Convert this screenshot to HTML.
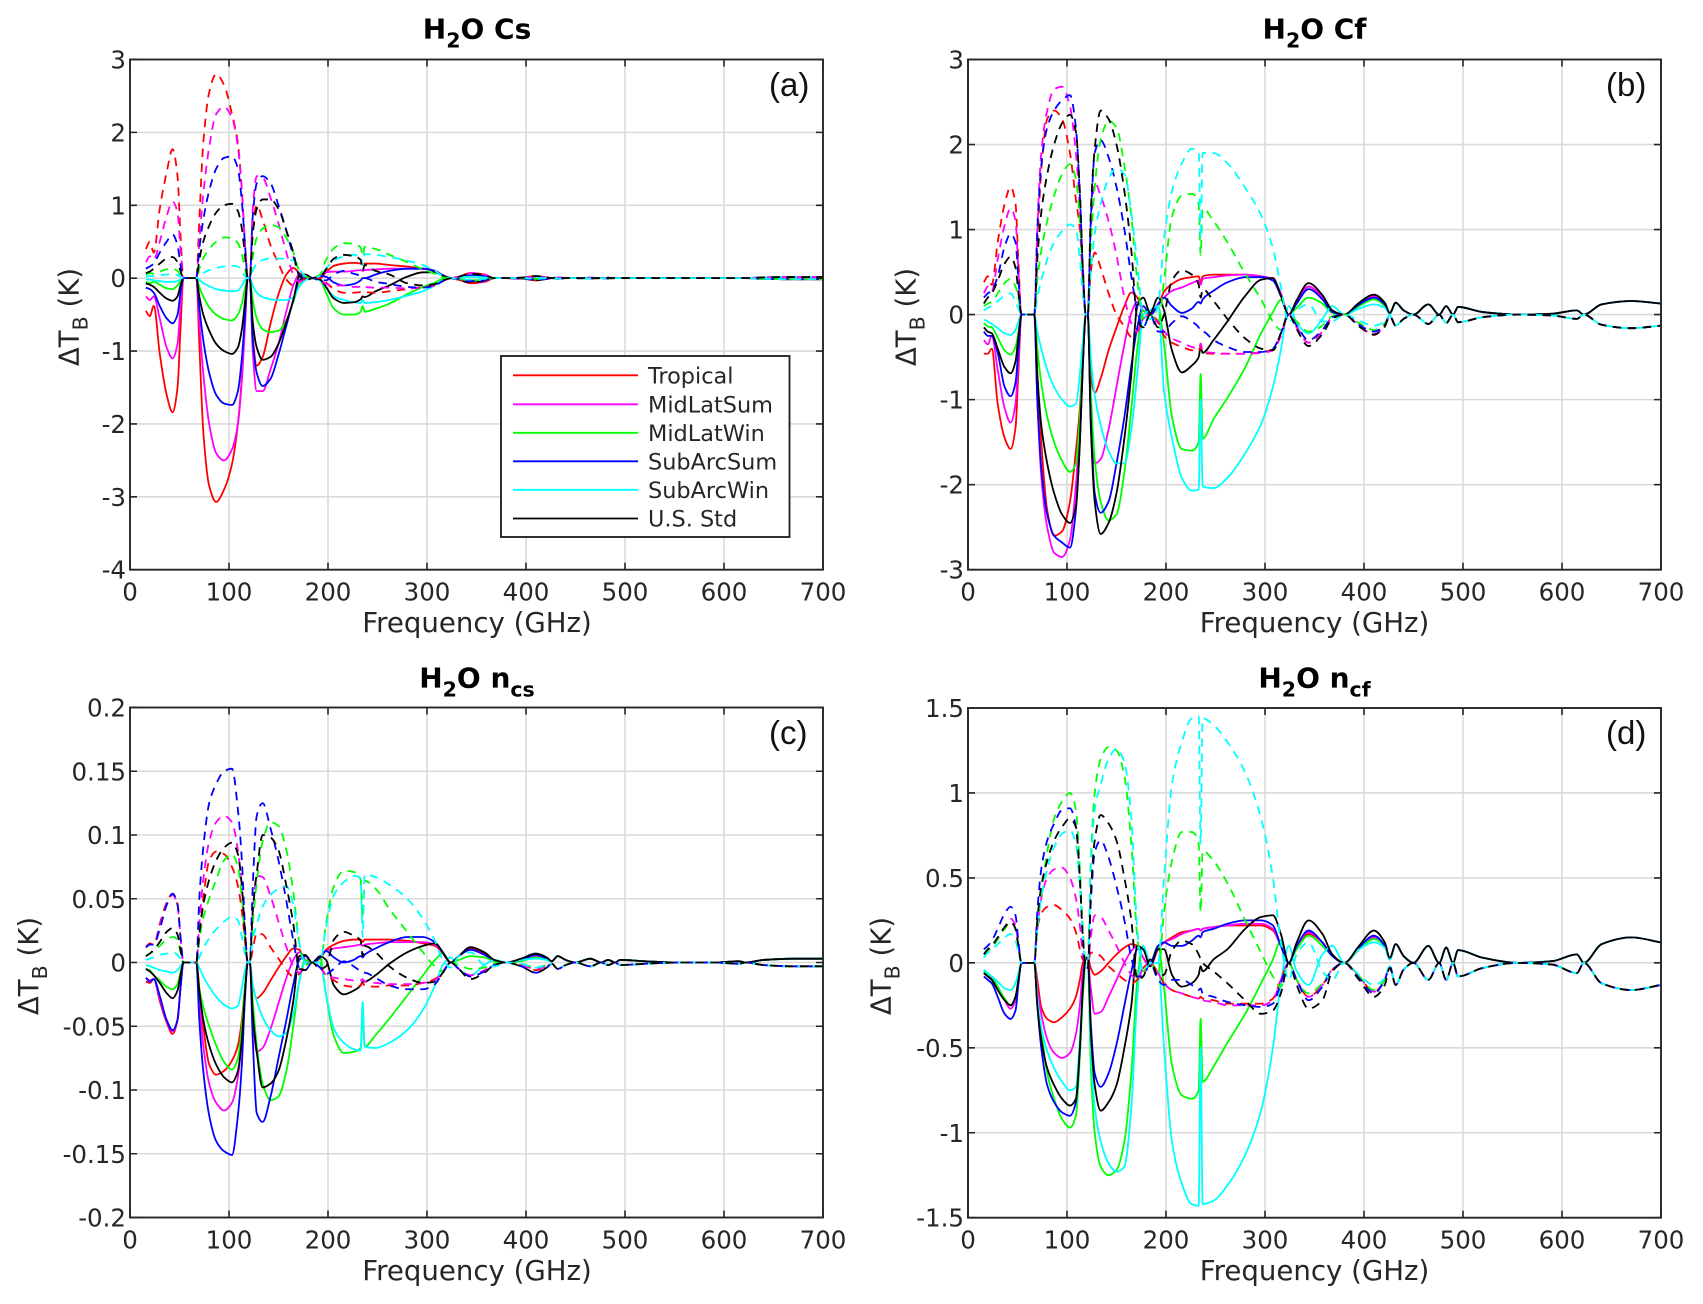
<!DOCTYPE html>
<html lang="en">
<head>
<meta charset="utf-8">
<title>H2O brightness temperature sensitivity</title>
<style>
html,body{margin:0;padding:0;background:#fff;}
#figure{display:block;}
text{font-family:"DejaVu Sans","Liberation Sans",sans-serif;fill:#262626;}
.tag{font-family:"Liberation Sans",sans-serif;font-size:33px;fill:#111;}
.tick{font-size:24.5px;}
.label{font-size:27.6px;}
.title{font-size:28px;font-weight:bold;fill:#000;}
.leg{font-size:22.4px;}
</style>
</head>
<body>
<svg id="figure" xmlns="http://www.w3.org/2000/svg" width="1703" height="1304" viewBox="0 0 1703 1304">
<rect x="0" y="0" width="1703" height="1304" fill="#fff"/>
<g id="plots"></g>

<text class="title" x="477" y="38.5" text-anchor="middle">H<tspan dy="9" font-size="20.5">2</tspan><tspan dy="-9">O Cs</tspan></text>
<text class="title" x="1314.5" y="38.5" text-anchor="middle">H<tspan dy="9" font-size="20.5">2</tspan><tspan dy="-9">O Cf</tspan></text>
<text class="title" x="477" y="687.5" text-anchor="middle">H<tspan dy="9" font-size="20.5">2</tspan><tspan dy="-9">O n</tspan><tspan dy="9" font-size="20.5">cs</tspan></text>
<text class="title" x="1314.5" y="687.5" text-anchor="middle">H<tspan dy="9" font-size="20.5">2</tspan><tspan dy="-9">O n</tspan><tspan dy="9" font-size="20.5">cf</tspan></text>

<text class="label" x="477" y="632" text-anchor="middle">Frequency (GHz)</text>
<text class="label" x="1314.5" y="632" text-anchor="middle">Frequency (GHz)</text>
<text class="label" x="477" y="1280" text-anchor="middle">Frequency (GHz)</text>
<text class="label" x="1314.5" y="1280" text-anchor="middle">Frequency (GHz)</text>

<text class="label" transform="translate(78.5 317) rotate(-90)" text-anchor="middle">ΔT<tspan dy="9" font-size="20.5">B</tspan><tspan dy="-9"> (K)</tspan></text>
<text class="label" transform="translate(915.5 317) rotate(-90)" text-anchor="middle">ΔT<tspan dy="9" font-size="20.5">B</tspan><tspan dy="-9"> (K)</tspan></text>
<text class="label" transform="translate(38 966) rotate(-90)" text-anchor="middle">ΔT<tspan dy="9" font-size="20.5">B</tspan><tspan dy="-9"> (K)</tspan></text>
<text class="label" transform="translate(890.5 966) rotate(-90)" text-anchor="middle">ΔT<tspan dy="9" font-size="20.5">B</tspan><tspan dy="-9"> (K)</tspan></text>

<text class="tag" x="769" y="96">(a)</text>
<text class="tag" x="1606" y="96">(b)</text>
<text class="tag" x="769" y="744">(c)</text>
<text class="tag" x="1606" y="744">(d)</text>

<g>
<rect x="501" y="356" width="288.5" height="181" fill="#fff" stroke="#262626" stroke-width="1.9"/>
<line x1="513" x2="638" y1="375.3" y2="375.3" stroke="#f00" stroke-width="1.8"/>
<text class="leg" x="648" y="383.3">Tropical</text>
<line x1="513" x2="638" y1="404.3" y2="404.3" stroke="#f0f" stroke-width="1.8"/>
<text class="leg" x="648" y="412.3">MidLatSum</text>
<line x1="513" x2="638" y1="432.8" y2="432.8" stroke="#0f0" stroke-width="1.8"/>
<text class="leg" x="648" y="440.8">MidLatWin</text>
<line x1="513" x2="638" y1="461.3" y2="461.3" stroke="#00f" stroke-width="1.8"/>
<text class="leg" x="648" y="469.3">SubArcSum</text>
<line x1="513" x2="638" y1="489.8" y2="489.8" stroke="#0ff" stroke-width="1.8"/>
<text class="leg" x="648" y="497.8">SubArcWin</text>
<line x1="513" x2="638" y1="518.5" y2="518.5" stroke="#000" stroke-width="1.8"/>
<text class="leg" x="648" y="526.5">U.S. Std</text>
</g>
</svg>

<script>
const freq=[16,20,24,30,37,43,48,51,54,
67,70,74,80,87,95,103,109,113,116,119,
121,124,128,134,142,150,158,165,171,177,184,
192,198,206,216,226,233,235,237,248,262,280,296,308,316,324,
332,344,358,368,
380,395,410,421,426,
432,440,450,465,476,483,490,495,520,555,590,615,622,640,670,700];

const xTicks=[0,100,200,300,400,500,600,700];
const aYTicks=[3,2,1,0,-1,-2,-3,-4];
const bYTicks=[3,2,1,0,-1,-2,-3];
const cYTicks=[0.2,0.15,0.1,0.05,0,-0.05,-0.1,-0.15,-0.2];
const dYTicks=[1.5,1,0.5,0,-0.5,-1,-1.5];

const atmospheres=["tropical","midlatsum","midlatwin","subarcsum","subarcwin","us-std"];
const colors=["#f00","#f0f","#0f0","#00f","#0ff","#000"];

/* Panel (a) H2O Cs */
const aTailSolid=[.01,0,0,.005,0,.005,0,0,0,0,0,0,0,.01,.015,.015];
const aTailDash=[-.01,0,0,-.005,0,-.005,0,0,0,0,0,0,0,-.01,-.015,-.015];
const aTropicalSolid=[-.45,-.52,-.38,-1.03,-1.6,-1.84,-1.5,-.7,0, 0,-.9,-2.1,-2.85,-3.07,-2.9,-2.55,-2,-1.35,-.6,0, 0,-.8,-1.2,-1.08,-.62,-.22,.05,.14,.07,.02,0, 0,.08,.17,.2,.21,.2,.19,.2,.2,.18,.16,.13,.1,.04,0, .02,.07,.05,0, 0,.005,.03,.01,0, ...aTailSolid];
const aTropicalDash=[.4,.5,.35,.95,1.45,1.77,1.4,.6,0, 0,.8,1.85,2.55,2.8,2.65,2.25,1.85,1.2,.5,0, 0,.7,1,.8,.45,.2,-.02,-.1,-.05,-.01,0, 0,-.06,-.15,-.2,-.2,-.19,-.18,-.19,-.2,-.18,-.15,-.12,-.1,-.04,0, -.02,-.07,-.05,0, 0,-.005,-.03,-.01,0, ...aTailDash];
const aMidLatSumSolid=[-.25,-.3,-.25,-.55,-.95,-1.1,-.9,-.4,0, 0,-.6,-1.3,-2,-2.4,-2.5,-2.35,-2,-1.4,-.7,0, 0,-1,-1.55,-1.55,-1.25,-.9,-.45,-.1,.05,.01,0, .02,.08,.09,.09,.1,.11,.1,.11,.12,.13,.13,.13,.1,.04,0, -.02,-.07,-.05,0, 0,-.005,-.02,-.01,0, ...aTailDash];
const aMidLatSumDash=[.22,.3,.25,.5,.85,1.05,.9,.4,0, 0,.5,1.15,1.8,2.25,2.35,2.2,1.8,1.2,.5,0, 0,.95,1.4,1.38,1.1,.75,.35,.05,-.05,-.01,0, -.02,-.08,-.1,-.1,-.12,-.12,-.1,-.12,-.13,-.13,-.14,-.13,-.1,-.04,0, .02,.07,.05,0, 0,.005,.02,.01,0, ...aTailSolid];
const aMidLatWinSolid=[-.05,-.07,-.05,-.09,-.14,-.15,-.1,-.04,0, 0,-.12,-.25,-.4,-.5,-.56,-.58,-.5,-.35,-.15,0, 0,-.3,-.55,-.7,-.74,-.72,-.58,-.32,-.1,-.02,0, -.03,-.2,-.42,-.5,-.5,-.46,-.38,-.46,-.42,-.35,-.22,-.12,-.06,-.01,0, .01,.03,.02,0, 0,0,.01,0,0, ...aTailSolid];
const aMidLatWinDash=[.05,.07,.06,.09,.12,.13,.1,.04,0, 0,.13,.27,.4,.5,.56,.55,.48,.33,.14,0, 0,.3,.55,.68,.73,.7,.55,.35,.1,.02,0, .05,.25,.41,.48,.47,.42,.3,.43,.4,.32,.22,.12,.06,.01,0, -.01,-.03,-.02,0, 0,0,-.01,0,0, ...aTailDash];
const aSubArcSumSolid=[-.13,-.15,-.2,-.38,-.55,-.62,-.5,-.2,0, 0,-.4,-.85,-1.3,-1.6,-1.72,-1.74,-1.55,-1.1,-.55,0, 0,-.85,-1.3,-1.48,-1.38,-1.05,-.65,-.3,-.03,0,0, .03,.02,-.06,-.1,-.08,-.03,0,0,.05,.1,.13,.13,.1,.04,0, .01,.04,.03,0, 0,.005,.02,.01,0, ...aTailSolid];
const aSubArcSumDash=[.13,.16,.2,.35,.5,.6,.45,.18,0, 0,.4,.8,1.2,1.5,1.65,1.67,1.5,1.05,.5,0, 0,.85,1.3,1.4,1.3,1,.65,.3,.05,0,0, -.03,-.03,.05,.1,.06,.03,0,0,-.05,-.08,-.12,-.13,-.1,-.04,0, -.01,-.04,-.03,0, 0,-.005,-.02,-.01,0, ...aTailDash];
const aSubArcWinSolid=[-.02,-.02,-.03,-.04,-.05,-.05,-.04,-.02,0, 0,-.02,-.07,-.11,-.15,-.17,-.18,-.17,-.1,-.03,0, 0,-.1,-.2,-.26,-.29,-.3,-.3,-.26,-.12,-.03,0, -.03,-.13,-.25,-.3,-.33,-.34,-.3,-.34,-.33,-.3,-.24,-.18,-.1,-.03,0, .01,.02,.01,0, 0,0,.01,0,0, ...aTailSolid];
const aSubArcWinDash=[.02,.03,.03,.04,.05,.06,.04,.02,0, 0,.02,.07,.11,.14,.16,.17,.16,.1,.03,0, 0,.1,.2,.25,.27,.27,.26,.24,.12,.03,0, .03,.13,.24,.3,.32,.3,.18,.33,.32,.29,.24,.18,.1,.03,0, -.01,-.02,-.01,0, 0,0,-.01,0,0, ...aTailDash];
const aUsStdSolid=[-.07,-.09,-.12,-.2,-.28,-.31,-.25,-.1,0, 0,-.25,-.5,-.72,-.9,-1,-1.04,-.95,-.7,-.35,0, 0,-.6,-.95,-1.12,-1.08,-.9,-.6,-.3,.03,.05,0, -.02,-.12,-.28,-.34,-.33,-.29,-.25,-.26,-.18,-.1,.02,.08,.08,.03,0, -.02,-.06,-.04,0, 0,-.005,-.03,-.01,0, ...aTailDash];
const aUsStdDash=[.07,.09,.13,.2,.27,.29,.22,.1,0, 0,.25,.5,.72,.9,1,1.02,.92,.68,.33,0, 0,.6,.95,1.08,1.08,.95,.65,.35,.03,-.03,0, .02,.12,.27,.32,.3,.25,.1,.18,.1,.05,-.07,-.1,-.08,-.03,0, .02,.06,.04,0, 0,.005,.03,.01,0, ...aTailSolid];

/* Panel (b) H2O Cf */
const bTailSolid=[.14,.05,0,.12,0,.1,0,.09,.03,0,.01,.05,0,.12,.16,.13];
const bTailDash=[-.13,-.05,0,-.11,0,-.1,0,-.09,-.03,0,-.01,-.05,0,-.12,-.16,-.13];
const bTropicalSolid=[-.46,-.46,-.4,-1.05,-1.45,-1.58,-1.33,-.65,0, 0,-.7,-1.5,-2.3,-2.6,-2.55,-2.2,-1.6,-1.1,-.5,0, 0,-.7,-.92,-.75,-.42,-.15,.1,.26,.2,.05,0, .1,.27,.36,.42,.44,.45,.38,.45,.47,.47,.47,.45,.41,.25,0, .15,.33,.2,.03, 0,.13,.22,.12,.01, ...bTailSolid];
const bTropicalDash=[.38,.45,.35,.85,1.3,1.5,1.3,.6,0, 0,.8,1.7,2.3,2.4,2.3,1.9,1.35,1,.4,0, 0,.5,.73,.55,.25,0,-.14,-.26,-.2,-.05,0, -.08,-.25,-.33,-.38,-.42,-.43,-.37,-.45,-.46,-.46,-.46,-.44,-.41,-.25,0, -.15,-.33,-.2,-.03, 0,-.13,-.24,-.12,-.01, ...bTailDash];
const bMidLatSumSolid=[-.3,-.35,-.25,-.65,-1.1,-1.27,-1.05,-.5,0, 0,-1,-1.9,-2.5,-2.8,-2.85,-2.65,-2,-1.3,-.55,0, 0,-1.1,-1.75,-1.7,-1.35,-.85,-.35,.02,.15,.05,0, .13,.2,.28,.32,.37,.4,.35,.42,.44,.46,.47,.45,.42,.25,0, .14,.33,.2,.03, 0,.13,.22,.13,.01, ...bTailSolid];
const bMidLatSumDash=[.25,.33,.27,.65,1.05,1.25,1.1,.5,0, 0,1,1.9,2.4,2.65,2.68,2.45,1.9,1.25,.5,0, 0,1,1.55,1.4,1.1,.7,.2,-.1,-.2,-.05,0, -.1,-.2,-.28,-.33,-.38,-.4,-.34,-.43,-.45,-.46,-.46,-.45,-.42,-.25,0, -.14,-.33,-.2,-.03, 0,-.13,-.23,-.13,-.01, ...bTailDash];
const bMidLatWinSolid=[-.1,-.14,-.15,-.27,-.42,-.47,-.38,-.2,0, 0,-.4,-.8,-1.2,-1.5,-1.72,-1.85,-1.75,-1.2,-.5,0, 0,-.9,-1.7,-2.2,-2.42,-2.35,-1.85,-1.1,-.4,.05,0, .1,-.35,-1.2,-1.58,-1.6,-1.5,-.7,-1.46,-1.23,-.98,-.62,-.22,.03,.17,0, .08,.2,.13,.02, 0,.1,.18,.1,.01, ...bTailSolid];
const bMidLatWinDash=[.1,.13,.15,.25,.37,.42,.33,.18,0, 0,.4,.75,1.1,1.4,1.65,1.77,1.6,1.1,.45,0, 0,.8,1.5,2.05,2.28,2.2,1.75,1.15,.4,-.05,0, -.1,.4,1.15,1.4,1.42,1.3,.7,1.25,1.1,.85,.48,.18,-.08,-.18,0, -.08,-.2,-.13,-.02, 0,-.1,-.18,-.1,-.01, ...bTailDash];
const bSubArcSumSolid=[-.2,-.25,-.25,-.45,-.85,-.96,-.8,-.4,0, 0,-1,-1.8,-2.35,-2.6,-2.68,-2.74,-2.3,-1.5,-.6,0, 0,-1.2,-2.1,-2.33,-2.2,-1.75,-1.2,-.6,-.15,.1,0, .12,.2,.1,.02,.07,.15,.13,.18,.28,.38,.44,.44,.4,.22,0, .13,.3,.18,.03, 0,.12,.2,.12,.01, ...bTailSolid];
const bSubArcSumDash=[.2,.25,.28,.45,.8,.95,.85,.4,0, 0,1,1.75,2.2,2.4,2.52,2.58,2.2,1.4,.55,0, 0,1.1,1.9,2.05,1.85,1.5,1,.45,.05,-.15,0, -.2,-.2,-.1,-.02,-.08,-.15,-.2,-.2,-.3,-.38,-.44,-.44,-.4,-.22,0, -.13,-.3,-.18,-.03, 0,-.12,-.2,-.12,-.01, ...bTailDash];
const bSubArcWinSolid=[-.06,-.08,-.11,-.16,-.22,-.24,-.18,-.08,0, 0,-.2,-.4,-.65,-.85,-1,-1.08,-1.05,-.7,-.3,0, 0,-.5,-.95,-1.3,-1.6,-1.75,-1.75,-1.35,-.7,0,.05, .1,-.9,-1.45,-1.92,-2.07,-2.06,-1,-2.02,-2.04,-1.92,-1.63,-1.29,-.85,-.42,.1, -.1,-.22,-.05,.1, 0,.07,.12,.08,.01, ...bTailSolid];
const bSubArcWinDash=[.05,.08,.1,.16,.22,.25,.15,.07,0, 0,.2,.4,.65,.85,.98,1.06,1,.65,.25,0, 0,.5,.95,1.3,1.6,1.72,1.65,1.2,.6,0,-.05, .1,.9,1.45,1.78,1.95,1.92,.9,1.9,1.9,1.78,1.49,1.17,.78,.33,-.1, .05,.12,-.08,-.08, 0,-.07,-.13,-.08,-.01, ...bTailDash];
const bUsStdSolid=[-.15,-.2,-.22,-.4,-.62,-.69,-.55,-.25,0, 0,-.7,-1.3,-1.75,-2.1,-2.35,-2.45,-2.25,-1.5,-.6,0, 0,-1.3,-2.2,-2.58,-2.45,-2.1,-1.45,-.7,.1,.2,.02, .2,.05,-.42,-.68,-.6,-.5,-.38,-.45,-.3,-.08,.22,.41,.43,.22,0, .17,.37,.23,.05, 0,.14,.235,.14,.02, ...bTailSolid];
const bUsStdDash=[.13,.2,.25,.4,.6,.68,.55,.25,0, 0,.65,1.2,1.65,2,2.25,2.35,2.15,1.45,.55,0, 0,1.2,1.95,2.4,2.3,2,1.45,.75,-.05,-.15,0, -.15,0,.4,.52,.47,.35,.2,.3,.16,-.05,-.28,-.4,-.42,-.22,0, -.17,-.37,-.23,-.05, 0,-.14,-.235,-.14,-.02, ...bTailDash];

/* Panel (c) H2O n_cs */
const cTailSolid=[.005,.002,0,.003,0,.002,0,.002,.001,0,0,.001,0,.002,.003,.003];
const cTailDash=[-.005,-.002,0,-.003,0,-.002,0,-.002,-.001,0,0,-.001,0,-.002,-.003,-.003];
const cTropicalSolid=[-.015,-.016,-.013,-.03,-.047,-.056,-.045,-.02,0, 0,-.02,-.05,-.08,-.088,-.085,-.077,-.065,-.045,-.02,0, 0,-.018,-.028,-.024,-.014,-.004,.005,.011,.01,.002,0, .003,.01,.014,.017,.018,.018,.016,.018,.018,.018,.017,.015,.013,.007,0, .005,.011,.007,.002, 0,.002,.006,.003,.001, ...cTailSolid];
const cTropicalDash=[.012,.015,.014,.03,.047,.054,.045,.02,0, 0,.02,.05,.08,.087,.085,.075,.06,.04,.018,0, 0,.01,.023,.022,.012,.003,-.006,-.011,-.009,-.002,0, -.003,-.01,-.014,-.018,-.019,-.018,-.016,-.018,-.019,-.018,-.018,-.016,-.013,-.007,0, -.005,-.011,-.007,-.002, 0,-.002,-.006,-.003,-.001, ...cTailDash];
const cMidLatSumSolid=[-.012,-.014,-.013,-.028,-.046,-.054,-.045,-.02,0, 0,-.03,-.065,-.095,-.11,-.116,-.11,-.09,-.06,-.025,0, 0,-.04,-.07,-.067,-.052,-.032,-.012,.002,.008,.002,0, .004,.009,.011,.012,.013,.014,.013,.014,.015,.016,.016,.016,.014,.007,0, .005,.01,.006,.002, 0,.002,.005,.003,.001, ...cTailSolid];
const cMidLatSumDash=[.012,.014,.014,.028,.046,.053,.045,.02,0, 0,.03,.065,.095,.11,.115,.11,.088,.058,.024,0, 0,.04,.068,.067,.052,.032,.012,-.003,-.008,-.002,0, -.004,-.01,-.012,-.013,-.014,-.014,-.013,-.015,-.016,-.017,-.017,-.016,-.014,-.007,0, -.005,-.01,-.006,-.002, 0,-.002,-.005,-.003,-.001, ...cTailDash];
const cMidLatWinSolid=[-.005,-.006,-.01,-.014,-.019,-.021,-.017,-.008,0, 0,-.02,-.035,-.05,-.065,-.078,-.084,-.075,-.05,-.02,0, 0,-.03,-.065,-.095,-.108,-.105,-.085,-.05,-.015,.002,0, .003,-.025,-.058,-.071,-.07,-.067,-.04,-.066,-.057,-.044,-.026,-.01,.002,.007,0, .002,.005,.004,.001, 0,.001,.004,.002,.001, ...cTailSolid];
const cMidLatWinDash=[.005,.007,.009,.013,.018,.02,.018,.008,0, 0,.018,.035,.05,.065,.08,.085,.075,.05,.02,0, 0,.03,.063,.095,.11,.107,.088,.055,.015,-.002,0, -.003,.03,.06,.072,.071,.065,.035,.064,.058,.042,.024,.008,-.003,-.007,0, -.002,-.005,-.004,-.001, 0,-.001,-.004,-.002,-.001, ...cTailDash];
const cSubArcSumSolid=[-.012,-.015,-.013,-.026,-.045,-.053,-.045,-.02,0, 0,-.045,-.085,-.12,-.14,-.148,-.151,-.12,-.08,-.03,0, 0,-.06,-.118,-.125,-.105,-.075,-.045,-.017,.002,.005,0, .004,.009,.004,0,.002,.005,.004,.006,.011,.016,.02,.02,.016,.008,0, .005,.01,.006,.002, 0,.002,.006,.003,.001, ...cTailSolid];
const cSubArcSumDash=[.012,.014,.014,.026,.045,.054,.046,.02,0, 0,.05,.09,.125,.14,.15,.152,.12,.08,.03,0, 0,.06,.115,.125,.105,.08,.048,.017,-.004,-.006,0, -.004,-.009,-.005,.001,-.003,-.007,-.008,-.008,-.012,-.018,-.021,-.021,-.017,-.008,0, -.005,-.011,-.007,-.002, 0,-.003,-.008,-.004,-.001, ...cTailDash];
const cSubArcWinSolid=[-.002,-.003,-.004,-.006,-.007,-.008,-.006,-.003,0, 0,-.004,-.011,-.019,-.027,-.033,-.036,-.034,-.02,-.007,0, 0,-.018,-.03,-.043,-.053,-.058,-.055,-.04,-.015,0,0, 0,-.025,-.052,-.063,-.068,-.069,-.031,-.066,-.067,-.063,-.053,-.037,-.018,-.002,.004, -.005,-.01,-.002,.002, 0,.002,.003,.002,.001, ...cTailSolid];
const cSubArcWinDash=[.002,.003,.004,.006,.007,.008,.006,.003,0, 0,.004,.011,.019,.026,.032,.036,.033,.02,.007,0, 0,.018,.03,.044,.053,.058,.06,.045,.015,0,0, 0,.028,.053,.063,.068,.066,.02,.069,.067,.061,.05,.034,.017,.002,-.004, .005,.008,-.002,-.003, 0,-.001,-.004,-.002,-.001, ...cTailDash];
const cUsStdSolid=[-.005,-.007,-.01,-.016,-.024,-.028,-.022,-.01,0, 0,-.022,-.045,-.065,-.08,-.09,-.094,-.085,-.06,-.025,0, 0,-.04,-.07,-.098,-.095,-.085,-.06,-.03,.005,.006,0, .005,.002,-.018,-.025,-.022,-.018,-.015,-.015,-.01,-.001,.008,.013,.015,.008,0, .005,.012,.008,.002, 0,.003,.007,.004,.001, ...cTailSolid];
const cUsStdDash=[.005,.007,.01,.016,.024,.027,.022,.01,0, 0,.022,.045,.065,.08,.09,.094,.085,.06,.025,0, 0,.04,.07,.1,.098,.088,.06,.03,-.005,-.006,0, -.005,-.003,.018,.024,.021,.017,.005,.013,.008,-.003,-.012,-.016,-.015,-.008,0, -.005,-.013,-.008,-.002, 0,-.003,-.008,-.004,-.001, ...cTailDash];

/* Panel (d) H2O n_cf */
const dTailSolid=[.11,.04,0,.1,0,.09,0,.075,.03,0,.01,.05,0,.11,.15,.12];
const dTailDash=[-.13,-.04,0,-.1,0,-.1,0,-.08,-.03,0,-.01,-.06,0,-.12,-.16,-.13];
const dTropicalSolid=[-.06,-.08,-.09,-.15,-.22,-.25,-.2,-.1,0, 0,-.1,-.26,-.33,-.35,-.32,-.27,-.2,-.1,0,.03, .03,-.03,-.07,-.05,0,.05,.09,.11,.1,.03,-.02, .08,.12,.15,.18,.19,.2,.19,.2,.21,.22,.22,.22,.19,.1,0, .1,.17,.12,.04, 0,.08,.15,.1,.02, ...dTailSolid];
const dTropicalDash=[.05,.07,.09,.14,.2,.24,.2,.08,0, 0,.2,.29,.33,.34,.31,.26,.18,.08,.02,0, 0,.06,.06,.04,-.02,-.06,-.1,-.12,-.1,-.03,0, -.06,-.12,-.16,-.18,-.2,-.21,-.2,-.21,-.22,-.24,-.24,-.24,-.21,-.1,0, -.1,-.2,-.13,-.04, 0,-.08,-.17,-.1,-.02, ...dTailDash];
const dMidLatSumSolid=[-.05,-.07,-.09,-.14,-.22,-.27,-.22,-.1,0, 0,-.15,-.3,-.45,-.53,-.56,-.53,-.42,-.25,-.05,.02, .02,-.15,-.3,-.29,-.2,-.1,0,.07,.1,.03,-.02, .08,.12,.14,.17,.19,.2,.19,.2,.21,.22,.23,.23,.2,.1,0, .1,.18,.12,.04, 0,.08,.15,.1,.02, ...dTailSolid];
const dMidLatSumDash=[.05,.07,.09,.14,.21,.26,.22,.1,0, 0,.2,.38,.5,.55,.56,.5,.38,.22,.05,-.02, -.02,.15,.28,.27,.19,.1,0,-.07,-.1,-.03,0, -.06,-.12,-.16,-.18,-.2,-.21,-.2,-.22,-.23,-.25,-.25,-.25,-.22,-.1,0, -.1,-.2,-.13,-.04, 0,-.08,-.17,-.1,-.02, ...dTailDash];
const dMidLatWinSolid=[-.05,-.07,-.08,-.14,-.21,-.25,-.2,-.1,0, 0,-.2,-.4,-.65,-.8,-.92,-.97,-.9,-.55,-.2,0, 0,-.6,-1,-1.2,-1.25,-1.22,-1.05,-.65,-.1,.1,0, .1,-.15,-.6,-.78,-.8,-.75,-.33,-.7,-.61,-.47,-.3,-.12,.02,.13,0, .08,.16,.1,.04, 0,.08,.14,.1,.02, ...dTailSolid];
const dMidLatWinDash=[.05,.07,.09,.14,.2,.24,.2,.09,0, 0,.2,.4,.65,.85,.95,1,.9,.55,.2,0, 0,.6,1,1.2,1.27,1.25,1.1,.7,.15,-.05,0, -.07,.3,.6,.77,.77,.7,.3,.66,.6,.47,.25,.06,-.08,-.14,0, -.1,-.18,-.12,-.04, 0,-.08,-.16,-.1,-.02, ...dTailDash];
const dSubArcSumSolid=[-.08,-.1,-.12,-.2,-.3,-.33,-.28,-.12,0, 0,-.25,-.5,-.72,-.82,-.88,-.9,-.82,-.5,-.15,.03, .03,-.35,-.65,-.73,-.65,-.48,-.25,-.05,.08,.08,0, .1,.12,.1,.1,.13,.16,.15,.18,.2,.23,.25,.25,.22,.1,0, .1,.19,.12,.04, 0,.09,.16,.1,.02, ...dTailSolid];
const dSubArcSumDash=[.08,.1,.13,.2,.29,.33,.28,.12,0, 0,.3,.55,.72,.82,.9,.91,.8,.48,.15,-.03, -.03,.35,.65,.72,.62,.45,.25,.03,-.08,-.08,0, -.1,-.13,-.1,-.1,-.13,-.16,-.15,-.18,-.2,-.23,-.25,-.26,-.24,-.12,0, -.1,-.22,-.14,-.04, 0,-.09,-.18,-.1,-.02, ...dTailDash];
const dSubArcWinSolid=[-.04,-.06,-.08,-.11,-.15,-.16,-.12,-.06,0, 0,-.2,-.38,-.52,-.62,-.7,-.75,-.73,-.45,-.15,0, 0,-.5,-.85,-1.05,-1.18,-1.23,-1.2,-.85,-.2,.1,0, 0,-.5,-1.05,-1.3,-1.42,-1.43,-.5,-1.42,-1.4,-1.31,-1.13,-.87,-.5,-.12,.1, -.05,-.13,.05,.1, 0,.08,.12,.09,.02, ...dTailSolid];
const dSubArcWinDash=[.03,.06,.08,.11,.15,.17,.13,.06,0, 0,.2,.38,.55,.68,.76,.78,.7,.45,.15,0, 0,.55,.9,1.05,1.2,1.26,1.18,.85,.2,-.05,0, 0,.5,1.05,1.3,1.44,1.45,.7,1.44,1.4,1.3,1.12,.85,.5,.12,-.1, .05,.12,-.05,-.1, 0,-.07,-.13,-.09,-.02, ...dTailDash];
const dUsStdSolid=[-.06,-.08,-.1,-.16,-.22,-.25,-.2,-.1,0, 0,-.25,-.45,-.62,-.72,-.8,-.84,-.8,-.5,-.15,.03, .03,-.4,-.72,-.87,-.82,-.72,-.5,-.25,.1,.08,-.02, .08,.08,-.07,-.14,-.12,-.07,-.02,-.05,.02,.08,.2,.27,.28,.17,0, .12,.25,.17,.05, 0,.1,.19,.12,.03, ...dTailSolid];
const dUsStdDash=[.05,.08,.1,.15,.21,.24,.2,.1,0, 0,.25,.45,.6,.72,.8,.85,.8,.5,.15,-.03, -.03,.4,.72,.87,.82,.72,.5,.25,-.1,-.08,.02, -.08,-.07,.07,.13,.11,.05,.02,0,-.05,-.12,-.22,-.3,-.28,-.18,0, -.13,-.27,-.22,-.05, 0,-.1,-.2,-.13,-.03, ...dTailDash];

const panelSeries={
  a:[[aTropicalSolid,aTropicalDash],[aMidLatSumSolid,aMidLatSumDash],[aMidLatWinSolid,aMidLatWinDash],[aSubArcSumSolid,aSubArcSumDash],[aSubArcWinSolid,aSubArcWinDash],[aUsStdSolid,aUsStdDash]],
  b:[[bTropicalSolid,bTropicalDash],[bMidLatSumSolid,bMidLatSumDash],[bMidLatWinSolid,bMidLatWinDash],[bSubArcSumSolid,bSubArcSumDash],[bSubArcWinSolid,bSubArcWinDash],[bUsStdSolid,bUsStdDash]],
  c:[[cTropicalSolid,cTropicalDash],[cMidLatSumSolid,cMidLatSumDash],[cMidLatWinSolid,cMidLatWinDash],[cSubArcSumSolid,cSubArcSumDash],[cSubArcWinSolid,cSubArcWinDash],[cUsStdSolid,cUsStdDash]],
  d:[[dTropicalSolid,dTropicalDash],[dMidLatSumSolid,dMidLatSumDash],[dMidLatWinSolid,dMidLatWinDash],[dSubArcSumSolid,dSubArcSumDash],[dSubArcWinSolid,dSubArcWinDash],[dUsStdSolid,dUsStdDash]]
};

const layouts=[
  {id:'a',left:130,right:823,top:59.5,bottom:569.7,yMin:-4,yMax:3,yTicks:aYTicks},
  {id:'b',left:968,right:1661,top:59.5,bottom:569.7,yMin:-3,yMax:3,yTicks:bYTicks},
  {id:'c',left:130,right:823,top:707.5,bottom:1217.5,yMin:-0.2,yMax:0.2,yTicks:cYTicks},
  {id:'d',left:968,right:1661,top:708,bottom:1217.7,yMin:-1.5,yMax:1.5,yTicks:dYTicks}
];

const SVGNS='http://www.w3.org/2000/svg';

function make(tag,parent,attrs){
  const el=document.createElementNS(SVGNS,tag);
  for(const k in attrs){el.setAttribute(k,attrs[k]);}
  parent.appendChild(el);
  return el;
}

function curvePath(xs,vals,xScale,yScale){
  const n=xs.length;
  const px=xs.map(xScale);
  const py=vals.map(yScale);
  const d=[];
  for(let i=0;i<n-1;i++){d.push((py[i+1]-py[i])/(px[i+1]-px[i]));}
  const m=[d[0]];
  for(let i=1;i<n-1;i++){
    if(d[i-1]*d[i]<=0){m.push(0);continue;}
    const h0=px[i]-px[i-1],h1=px[i+1]-px[i];
    const w0=2*h1+h0,w1=h1+2*h0;
    m.push((w0+w1)/(w0/d[i-1]+w1/d[i]));
  }
  m.push(d[n-2]);
  let out='M'+px[0].toFixed(2)+' '+py[0].toFixed(2);
  for(let i=0;i<n-1;i++){
    const h=(px[i+1]-px[i])/3;
    out+='C'+(px[i]+h).toFixed(2)+' '+(py[i]+m[i]*h).toFixed(2)+' '+(px[i+1]-h).toFixed(2)+' '+(py[i+1]-m[i+1]*h).toFixed(2)+' '+px[i+1].toFixed(2)+' '+py[i+1].toFixed(2);
  }
  return out;
}

function drawPanel(cfg){
  const root=document.getElementById('plots');
  const g=make('g',root,{});
  
  
  const xScale=f=>cfg.left+(f-xTicks[0])/(xTicks[xTicks.length-1]-xTicks[0])*(cfg.right-cfg.left);
  const yScale=v=>cfg.bottom-(v-cfg.yMin)/(cfg.yMax-cfg.yMin)*(cfg.bottom-cfg.top);

  xTicks.forEach(t=>{
    const x=xScale(t);
    if(t>xTicks[0]&&t<xTicks[xTicks.length-1]){
      const gl=make('line',g,{x1:x,x2:x,y1:cfg.top,y2:cfg.bottom,stroke:'#dadada','stroke-width':1.6});
      
      
    }
  });
  cfg.yTicks.forEach(t=>{
    const y=yScale(t);
    if(t>cfg.yMin&&t<cfg.yMax){
      const gl=make('line',g,{x1:cfg.left,x2:cfg.right,y1:y,y2:y,stroke:'#dadada','stroke-width':1.6});
      
      
    }
  });

  panelSeries[cfg.id].forEach((pair,i)=>{
    const solid=make('path',g,{d:curvePath(freq,pair[0],xScale,yScale),fill:'none',stroke:colors[i],'stroke-width':1.8,'stroke-linejoin':'round'});
    
    
  });
  panelSeries[cfg.id].forEach((pair,i)=>{
    const dash=make('path',g,{d:curvePath(freq,pair[1],xScale,yScale),fill:'none',stroke:colors[i],'stroke-width':1.8,'stroke-dasharray':'8.5 6.5'});
    
    
  });

  const frame=make('rect',g,{x:cfg.left,y:cfg.top,width:cfg.right-cfg.left,height:cfg.bottom-cfg.top,fill:'none',stroke:'#262626','stroke-width':1.9});
  
  

  xTicks.forEach(t=>{
    const x=xScale(t);
    const tk=make('path',g,{d:'M'+x+' '+cfg.bottom+'v-7M'+x+' '+cfg.top+'v7',stroke:'#262626','stroke-width':1.6,fill:'none'});
    
    
    const lb=make('text',g,{x:x,y:cfg.bottom+31,'text-anchor':'middle',class:'tick'});
    lb.textContent=String(t);
    
    
  });
  cfg.yTicks.forEach(t=>{
    const y=yScale(t);
    const tk=make('path',g,{d:'M'+cfg.left+' '+y+'h7M'+cfg.right+' '+y+'h-7',stroke:'#262626','stroke-width':1.6,fill:'none'});
    
    
    const lb=make('text',g,{x:cfg.left-4,y:y+9,'text-anchor':'end',class:'tick'});
    lb.textContent=String(t);
    
    
  });
}

layouts.forEach(drawPanel);
</script>
</body>
</html>
